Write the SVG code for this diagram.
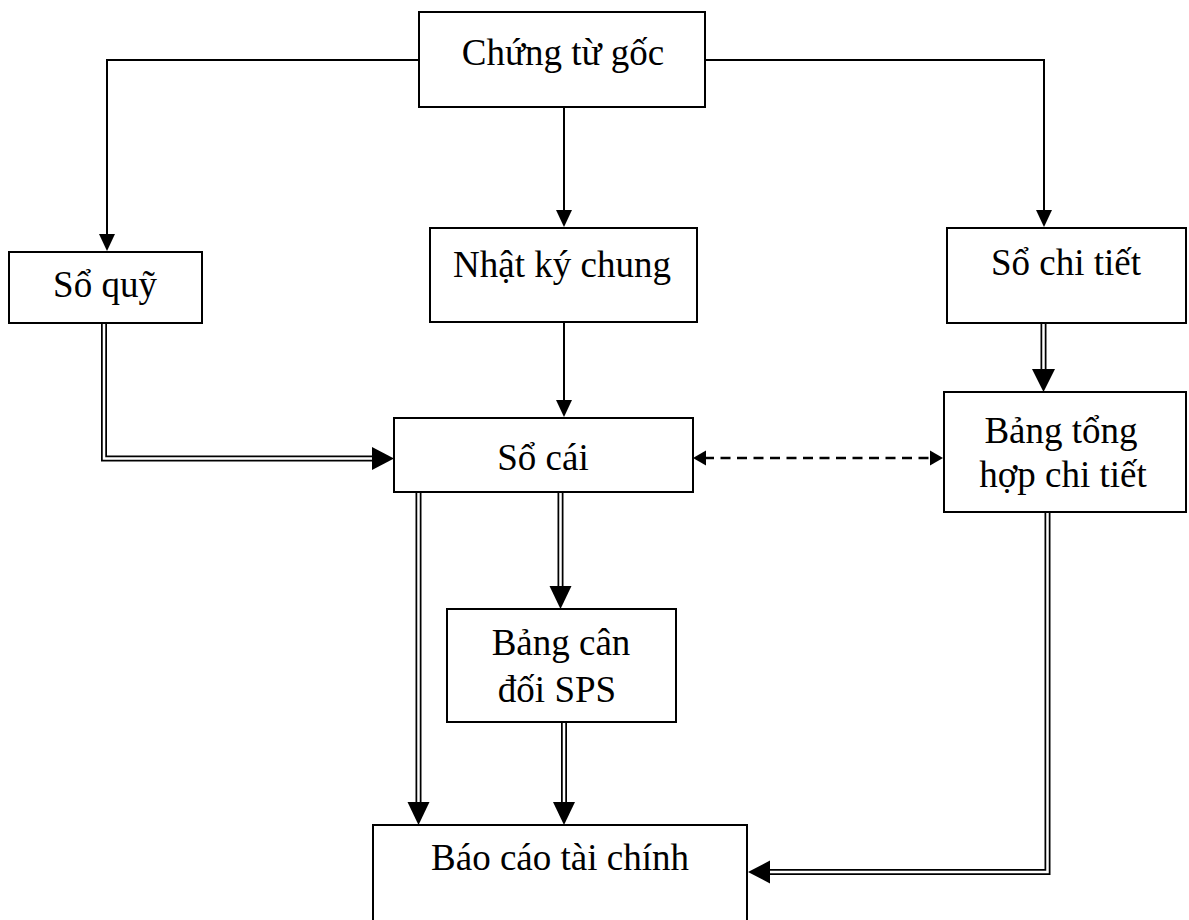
<svg xmlns="http://www.w3.org/2000/svg" width="1189" height="920" viewBox="0 0 1189 920">
<style>
.box{fill:#fff;stroke:#000;stroke-width:2}
.t{font-family:"Liberation Serif","Times New Roman",serif;font-size:37px;fill:#000;text-anchor:middle}
.s{fill:none;stroke:#000;stroke-width:2}
.dbk{fill:none;stroke:#000;stroke-width:6}
.dwh{fill:none;stroke:#fff;stroke-width:2.5}
.ah{fill:#000;stroke:none}
.dash{fill:none;stroke:#000;stroke-width:2.5;stroke-dasharray:10 6.5}
</style>
<rect width="1189" height="920" fill="#fff"/>
<g id="connectors">
  <path class="s" d="M419,60 H107 V236"/>
  <polygon class="ah" points="99,234 115,234 107,251"/>
  <path class="s" d="M564,107 V212"/>
  <polygon class="ah" points="556,210 572,210 564,227"/>
  <path class="s" d="M705,60 H1044 V212"/>
  <polygon class="ah" points="1036,210 1052,210 1044,227"/>
  <path class="s" d="M564,322 V402"/>
  <polygon class="ah" points="556,400 572,400 564,417"/>

  <path class="dbk" d="M104,323 V458.5 H374"/>
  <path class="dwh" d="M104,321 V458.5 H374"/>
  <polygon class="ah" points="372,447 372,470 394,458.5"/>

  <path class="dbk" d="M418.5,493 V804"/>
  <path class="dwh" d="M418.5,491 V804"/>
  <polygon class="ah" points="407.5,802 429.5,802 418.5,825"/>

  <path class="dbk" d="M560.5,493 V588"/>
  <path class="dwh" d="M560.5,491 V588"/>
  <polygon class="ah" points="549.5,586 571.5,586 560.5,609"/>

  <path class="dbk" d="M564,723 V804"/>
  <path class="dwh" d="M564,721 V804"/>
  <polygon class="ah" points="553,802 575,802 564,825"/>

  <path class="dbk" d="M1043.5,324 V371"/>
  <path class="dwh" d="M1043.5,322 V371"/>
  <polygon class="ah" points="1032,369 1055,369 1043.5,392"/>

  <path class="dbk" d="M1047.5,513 V872 H768"/>
  <path class="dwh" d="M1047.5,511 V872 H768"/>
  <polygon class="ah" points="770,860.5 770,883.5 748,872"/>

  <path class="dash" d="M704,458 H931"/>
  <polygon class="ah" points="693,458 706,450.5 706,465.5"/>
  <polygon class="ah" points="943,458 930,450.5 930,465.5"/>
</g>
<g id="chung-tu-goc">
  <rect class="box" x="419" y="12" width="286" height="95"/>
  <text class="t" x="563" y="65">Chứng từ gốc</text>
</g>
<g id="so-quy">
  <rect class="box" x="9" y="252" width="193" height="71"/>
  <text class="t" x="105" y="297">Sổ quỹ</text>
</g>
<g id="nhat-ky-chung">
  <rect class="box" x="430" y="228" width="267" height="94"/>
  <text class="t" x="562" y="277">Nhật ký chung</text>
</g>
<g id="so-chi-tiet">
  <rect class="box" x="947" y="228" width="239" height="95"/>
  <text class="t" x="1066" y="275">Sổ chi tiết</text>
</g>
<g id="so-cai">
  <rect class="box" x="394" y="418" width="299" height="74"/>
  <text class="t" x="543" y="470">Sổ cái</text>
</g>
<g id="bang-tong-hop">
  <rect class="box" x="944" y="392" width="242" height="120"/>
  <text class="t" x="1061" y="443">Bảng tổng</text>
  <text class="t" x="1063" y="487">hợp chi tiết</text>
</g>
<g id="bang-can-doi">
  <rect class="box" x="447" y="609" width="229" height="113"/>
  <text class="t" x="561" y="655">Bảng cân</text>
  <text class="t" x="557" y="702">đối SPS</text>
</g>
<g id="bao-cao-tai-chinh">
  <rect class="box" x="373" y="825" width="374" height="110"/>
  <text class="t" x="560" y="870">Báo cáo tài chính</text>
</g>
</svg>
